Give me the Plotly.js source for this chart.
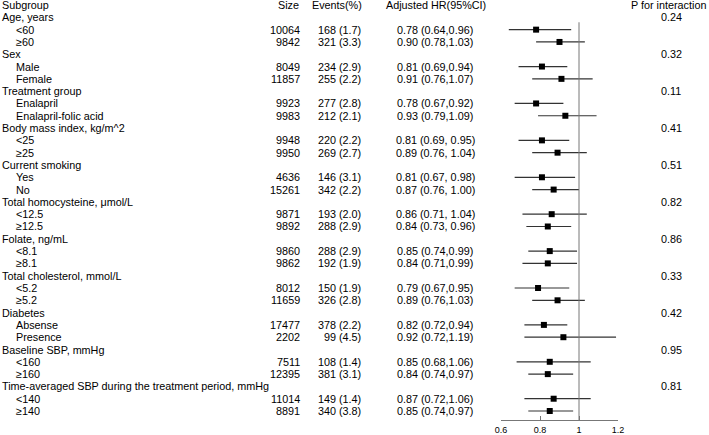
<!DOCTYPE html>
<html>
<head>
<meta charset="utf-8">
<script src="https://cdn.plot.ly/plotly-3.0.1.min.js"></script>
<style>
  body { margin: 0; background: #fff; }
  #plot { width: 709px; height: 435px; }
</style>
</head>
<body>
<div id="plot"></div>
<script>
// rows of the table (header row is separate)
const labels = ["Age, years", "<60", "≥60", "Sex", "Male", "Female", "Treatment group", "Enalapril", "Enalapril-folic acid",
  "Body mass index, kg/m^2", "<25", "≥25", "Current smoking", "Yes", "No", "Total homocysteine, μmol/L", "<12.5", "≥12.5",
  "Folate, ng/mL", "<8.1", "≥8.1", "Total cholesterol, mmol/L", "<5.2", "≥5.2", "Diabetes", "Absense", "Presence",
  "Baseline SBP, mmHg", "<160", "≥160", "Time-averaged SBP during the treatment period, mmHg", "<140", "≥140"];
const sizes = ["", "10064", "9842", "", "8049", "11857", "", "9923", "9983", "", "9948", "9950", "", "4636", "15261",
  "", "9871", "9892", "", "9860", "9862", "", "8012", "11659", "", "17477", "2202", "", "7511", "12395", "", "11014", "8891"];
const events = ["", "168 (1.7)", "321 (3.3)", "", "234 (2.9)", "255 (2.2)", "", "277 (2.8)", "212 (2.1)", "", "220 (2.2)", "269 (2.7)",
  "", "146 (3.1)", "342 (2.2)", "", "193 (2.0)", "288 (2.9)", "", "288 (2.9)", "192 (1.9)", "", "150 (1.9)", "326 (2.8)",
  "", "378 (2.2)", "99 (4.5)", "", "108 (1.4)", "381 (3.1)", "", "149 (1.4)", "340 (3.8)"];
const hrText = ["", "0.78 (0.64,0.96)", "0.90 (0.78,1.03)", "", "0.81 (0.69,0.94)", "0.91 (0.76,1.07)", "", "0.78 (0.67,0.92)", "0.93 (0.79,1.09)",
  "", "0.81 (0.69, 0.95)", "0.89 (0.76, 1.04)", "", "0.81 (0.67, 0.98)", "0.87 (0.76, 1.00)", "", "0.86 (0.71, 1.04)", "0.84 (0.73, 0.96)",
  "", "0.85 (0.74,0.99)", "0.84 (0.71,0.99)", "", "0.79 (0.67,0.95)", "0.89 (0.76,1.03)", "", "0.82 (0.72,0.94)", "0.92 (0.72,1.19)",
  "", "0.85 (0.68,1.06)", "0.84 (0.74,0.97)", "", "0.87 (0.72,1.06)", "0.85 (0.74,0.97)"];
const hr = [null, 0.78, 0.90, null, 0.81, 0.91, null, 0.78, 0.93, null, 0.81, 0.89, null, 0.81, 0.87, null, 0.86, 0.84,
  null, 0.85, 0.84, null, 0.79, 0.89, null, 0.82, 0.92, null, 0.85, 0.84, null, 0.87, 0.85];
const lo = [null, 0.64, 0.78, null, 0.69, 0.76, null, 0.67, 0.79, null, 0.69, 0.76, null, 0.67, 0.76, null, 0.71, 0.73,
  null, 0.74, 0.71, null, 0.67, 0.76, null, 0.72, 0.72, null, 0.68, 0.74, null, 0.72, 0.74];
const hi = [null, 0.96, 1.03, null, 0.94, 1.07, null, 0.92, 1.09, null, 0.95, 1.04, null, 0.98, 1.00, null, 1.04, 0.96,
  null, 0.99, 0.99, null, 0.95, 1.03, null, 0.94, 1.19, null, 1.06, 0.97, null, 1.06, 0.97];
const pInter = ["0.24", "", "", "0.32", "", "", "0.11", "", "", "0.41", "", "", "0.51", "", "", "0.82", "", "",
  "0.86", "", "", "0.33", "", "", "0.42", "", "", "0.95", "", "", "0.81", "", ""];
const headers = ["Subgroup", "Size", "Events(%)", "Adjusted HR(95%CI)", "P for interaction"];
const tickVals = [0.6, 0.8, 1, 1.2];
const tickLabels = ["0.6", "0.8", "1", "1.2"];

const W = 709, H = 435;
const plotL = 501, plotR = 618;
const FONT = "Liberation Sans, Arial, sans-serif";
const FS = 10.8;

function px(p) { return (p - plotL) / (plotR - plotL); }
function esc(s) { return s.replace(/&/g, "&amp;").replace(/</g, "&lt;").replace(/>/g, "&gt;"); }

const rows = labels.map((_, i) => i + 1);
const annotations = [];
function addText(text, xPix, row, anchor) {
  if (!text) return;
  annotations.push({
    text: esc(text), xref: "paper", yref: "y", x: px(xPix), y: row,
    xanchor: anchor, yanchor: "middle", showarrow: false,
    font: { family: FONT, size: FS, color: "#000" }
  });
}

// header row
addText(headers[0], 0, 0, "left");
addText(headers[1], 288, 0, "center");
addText(headers[2], 364, 0, "right");
addText(headers[3], 436, 0, "center");
addText(headers[4], 668, 0, "center");

labels.forEach((lab, i) => {
  const group = sizes[i] === "";
  addText(lab, group ? 0 : 14, rows[i], "left");
  addText(sizes[i], 302, rows[i], "right");
  addText(events[i], 363, rows[i], "right");
  addText(hrText[i], 435, rows[i], "center");
  addText(pInter[i], 671, rows[i], "center");
});

const trace = {
  x: hr,
  y: rows,
  type: "scatter",
  mode: "markers",
  marker: { symbol: "square", size: 6, color: "#000" },
  error_x: {
    type: "data", symmetric: false,
    array: hr.map((v, i) => v === null ? null : hi[i] - v),
    arrayminus: hr.map((v, i) => v === null ? null : v - lo[i]),
    width: 0, thickness: 1.2, color: "#333"
  },
  cliponaxis: false,
  hoverinfo: "skip"
};

const layout = {
  width: W, height: H,
  margin: { l: plotL, r: W - plotR, t: 0, b: 15, pad: 0 },
  paper_bgcolor: "#fff", plot_bgcolor: "#fff",
  showlegend: false,
  font: { family: FONT, size: FS, color: "#000" },
  xaxis: {
    range: [0.6, 1.2], tickvals: tickVals, ticktext: tickLabels,
    ticks: "inside", ticklen: 4, tickcolor: "#777", tickwidth: 1,
    showline: true, linecolor: "#777", linewidth: 1,
    showgrid: false, zeroline: false, ticklabelstandoff: 1,
    tickfont: { family: FONT, size: 9, color: "#000" }
  },
  yaxis: { visible: false, range: [33.73, -0.41] },
  shapes: [{
    type: "line", xref: "x", yref: "y", x0: 1, x1: 1, y0: 1.4, y1: 33.73,
    line: { color: "#777", width: 1 }
  }],
  annotations: annotations
};

Plotly.newPlot("plot", [trace], layout, { displayModeBar: false, staticPlot: true });
</script>
</body>
</html>
